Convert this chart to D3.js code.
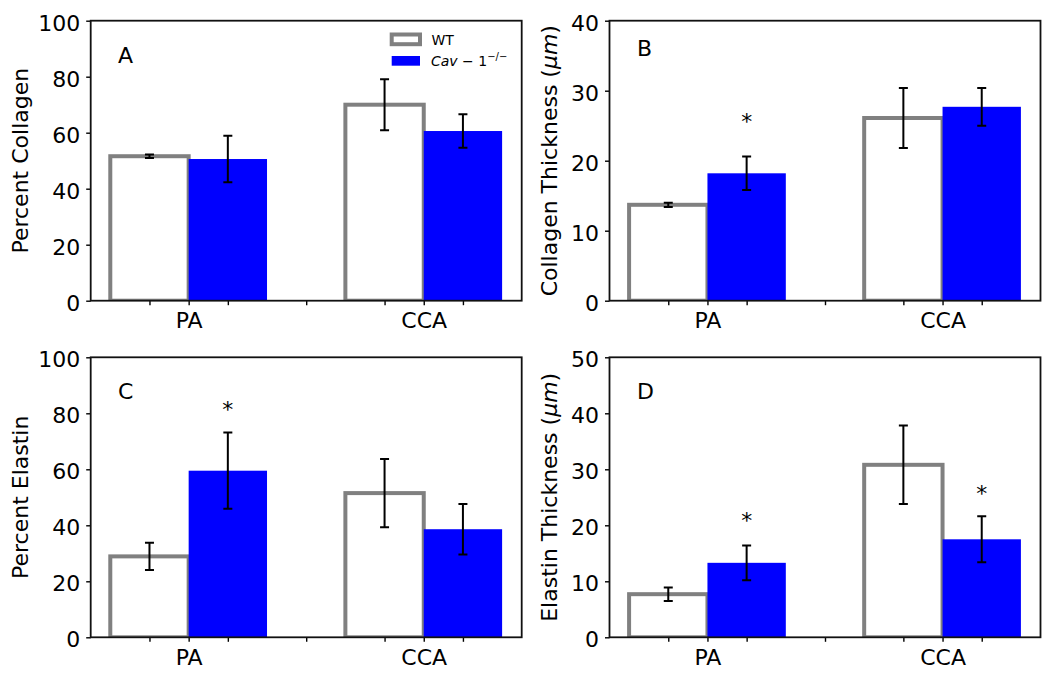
<!DOCTYPE html>
<html><head><meta charset="utf-8">
<script src="https://cdn.jsdelivr.net/npm/d3@7"></script>
<style>
body{margin:0;background:#fff}
text{font-family:"DejaVu Sans",Verdana,sans-serif;fill:#000}
</style>
</head><body>
<svg id="chart" width="1050" height="674"></svg>
<script>
// ---------- data ----------
const categories = ["PA", "CCA"];
const seriesNames = ["WT", "Cav-1-/-"];

// A: Percent Collagen
const collagenPctWT = [51.6, 70.0];
const collagenPctWTErr = [0.6, 9.1];
const collagenPctCav = [50.6, 60.6];
const collagenPctCavErr = [8.3, 6.0];

// B: Collagen Thickness (um)
const collagenThkWT = [13.7, 26.1];
const collagenThkWTErr = [0.3, 4.3];
const collagenThkCav = [18.2, 27.7];
const collagenThkCavErr = [2.4, 2.7];
const collagenThkStarCav = [26.3, null];

// C: Percent Elastin
const elastinPctWT = [28.9, 51.5];
const elastinPctWTErr = [4.9, 12.2];
const elastinPctCav = [59.5, 38.6];
const elastinPctCavErr = [13.6, 9.0];
const elastinPctStarCav = [83.3, null];

// D: Elastin Thickness (um)
const elastinThkWT = [7.7, 30.8];
const elastinThkWTErr = [1.2, 7.0];
const elastinThkCav = [13.3, 17.5];
const elastinThkCavErr = [3.1, 4.1];
const elastinThkStarCav = [21.7, 26.6];

const yTicksPercent = [0, 20, 40, 60, 80, 100];
const yTicksCollagenThk = [0, 10, 20, 30, 40];
const yTicksElastinThk = [0, 10, 20, 30, 40, 50];
const panelLetters = ["A", "B", "C", "D"];

// ---------- layout ----------
const colX = [90.7, 609.5];
const rowY = [20.7, 357.3];
const PW = 431, PH = 280;
const gray = "#808080", blue = "#0000ff";

const panels = [
  {letter: panelLetters[0], col: 0, row: 0, wt: collagenPctWT, wtErr: collagenPctWTErr, cav: collagenPctCav, cavErr: collagenPctCavErr,
   star: [null, null], ticks: yTicksPercent, title: ["Percent Collagen"], letterY: 85, titleOff: 62.5, legend: true},
  {letter: panelLetters[1], col: 1, row: 0, wt: collagenThkWT, wtErr: collagenThkWTErr, cav: collagenThkCav, cavErr: collagenThkCavErr,
   star: collagenThkStarCav, ticks: yTicksCollagenThk, title: ["Collagen Thickness (", "μm", ")"], letterY: 35, titleOff: 52.5},
  {letter: panelLetters[2], col: 0, row: 1, wt: elastinPctWT, wtErr: elastinPctWTErr, cav: elastinPctCav, cavErr: elastinPctCavErr,
   star: elastinPctStarCav, ticks: yTicksPercent, title: ["Percent Elastin"], letterY: 85, titleOff: 62.5},
  {letter: panelLetters[3], col: 1, row: 1, wt: elastinThkWT, wtErr: elastinThkWTErr, cav: elastinThkCav, cavErr: elastinThkCavErr,
   star: elastinThkStarCav, ticks: yTicksElastinThk, title: ["Elastin Thickness (", "μm", ")"], letterY: 42.5, titleOff: 52.5}
];

const svg = d3.select("#chart");
svg.append("rect").attr("width", 1050).attr("height", 674).attr("fill", "#fff");
const defs = svg.append("defs");

const barW = 1 / 3;
const tickVals = [-1/6, 0, 1/6, 0.5, 5/6, 1, 7/6];

panels.forEach((p, pi) => {
  const x0 = colX[p.col], y0 = rowY[p.row];
  const g = svg.append("g").attr("transform", `translate(${x0},${y0})`);
  const x = d3.scaleLinear().domain([-5/12, 17/12]).range([0, PW]);
  const yMax = p.ticks[p.ticks.length - 1];
  const y = d3.scaleLinear().domain([0, yMax]).range([PH, 0]);

  defs.append("clipPath").attr("id", "clip" + pi)
    .append("rect").attr("width", PW).attr("height", PH);

  const plot = g.append("g").attr("clip-path", `url(#clip${pi})`);

  // WT bars (white with gray edge)
  plot.selectAll(".wt").data(p.wt).enter().append("rect")
    .attr("x", (d, i) => x(i - 1/6 - barW / 2))
    .attr("width", (d, i) => x(i - 1/6 + barW / 2) - x(i - 1/6 - barW / 2))
    .attr("y", d => y(d))
    .attr("height", d => y(0) - y(d))
    .attr("fill", "#fff").attr("stroke", gray).attr("stroke-width", 4);

  // WT error bars
  const errG = (vals, errs, off) => {
    const eg = plot.append("g").attr("stroke", "#000").attr("stroke-width", 2);
    vals.forEach((v, i) => {
      const cx = x(i + off);
      eg.append("line").attr("x1", cx).attr("x2", cx).attr("y1", y(v - errs[i])).attr("y2", y(v + errs[i]));
      [v - errs[i], v + errs[i]].forEach(e => {
        eg.append("line").attr("x1", cx - 4.5).attr("x2", cx + 4.5).attr("y1", y(e)).attr("y2", y(e));
      });
    });
  };

  // Cav bars (blue)
  plot.selectAll(".cav").data(p.cav).enter().append("rect")
    .attr("x", (d, i) => x(i + 1/6 - barW / 2))
    .attr("width", (d, i) => x(i + 1/6 + barW / 2) - x(i + 1/6 - barW / 2))
    .attr("y", d => y(d))
    .attr("height", d => y(0) - y(d))
    .attr("fill", blue);

  errG(p.wt, p.wtErr, -1/6);
  errG(p.cav, p.cavErr, 1/6);

  // significance stars
  p.star.forEach((s, i) => {
    if (s == null) return;
    g.append("text").attr("x", x(i + 1/6)).attr("y", y(s) + 12.5)
      .attr("text-anchor", "middle").attr("font-size", 22).text("*");
  });

  // axes
  const xAxis = d3.axisBottom(x).tickValues(tickVals)
    .tickFormat(d => (d === 0 ? categories[0] : d === 1 ? categories[1] : ""))
    .tickSize(4.5).tickSizeOuter(0).tickPadding(6);
  const xa = g.append("g").attr("transform", `translate(0,${PH})`).call(xAxis);
  xa.select(".domain").remove();
  xa.selectAll("line").attr("stroke", "#000").attr("stroke-width", 1.4);
  xa.selectAll("text").attr("font-size", 22).attr("dy", null).attr("y", 27.6)
    .style("font-family", '"DejaVu Sans",sans-serif');

  const yAxis = d3.axisLeft(y).tickValues(p.ticks).tickFormat(d3.format("d"))
    .tickSize(4.5).tickSizeOuter(0).tickPadding(6);
  const ya = g.append("g").call(yAxis);
  ya.select(".domain").remove();
  ya.selectAll("line").attr("stroke", "#000").attr("stroke-width", 1.4);
  ya.selectAll("text").attr("font-size", 22).attr("dy", null).attr("y", 9.5)
    .attr("x", -10.5).style("font-family", '"DejaVu Sans",sans-serif');

  // frame (spines)
  g.append("rect").attr("width", PW).attr("height", PH)
    .attr("fill", "none").attr("stroke", "#111").attr("stroke-width", 1.8);

  // y title
  const t = g.append("text")
    .attr("transform", `translate(${-p.titleOff},${PH / 2}) rotate(-90)`)
    .attr("text-anchor", "middle").attr("font-size", 22);
  p.title.forEach((part, k) => {
    const ts = t.append("tspan").text(part);
    if (k === 1) ts.attr("font-style", "italic");
  });

  // panel letter
  g.append("text").attr("x", x(-0.3)).attr("y", y(p.letterY))
    .attr("font-size", 22).text(p.letter);

  // legend
  if (p.legend) {
    const lg = svg.append("g");
    const lx = 391.7, lw = 28.3, lh = 9.7;
    const rows = [34.5, 56];
    lg.append("rect").attr("x", lx).attr("y", rows[0]).attr("width", lw).attr("height", lh)
      .attr("fill", "#fff").attr("stroke", gray).attr("stroke-width", 4);
    lg.append("rect").attr("x", lx).attr("y", rows[1]).attr("width", lw).attr("height", lh)
      .attr("fill", blue);
    lg.append("text").attr("x", 431.5).attr("y", rows[0] + 10).attr("font-size", 14).text(seriesNames[0]);
    const ct = lg.append("text").attr("x", 431).attr("y", rows[1] + 10).attr("font-size", 14);
    ct.append("tspan").attr("font-style", "italic").text("Cav");
    ct.append("tspan").text(" − 1");
    ct.append("tspan").attr("font-size", 10).attr("dy", -6).text("−/−");
  }
});
</script>
</body></html>
